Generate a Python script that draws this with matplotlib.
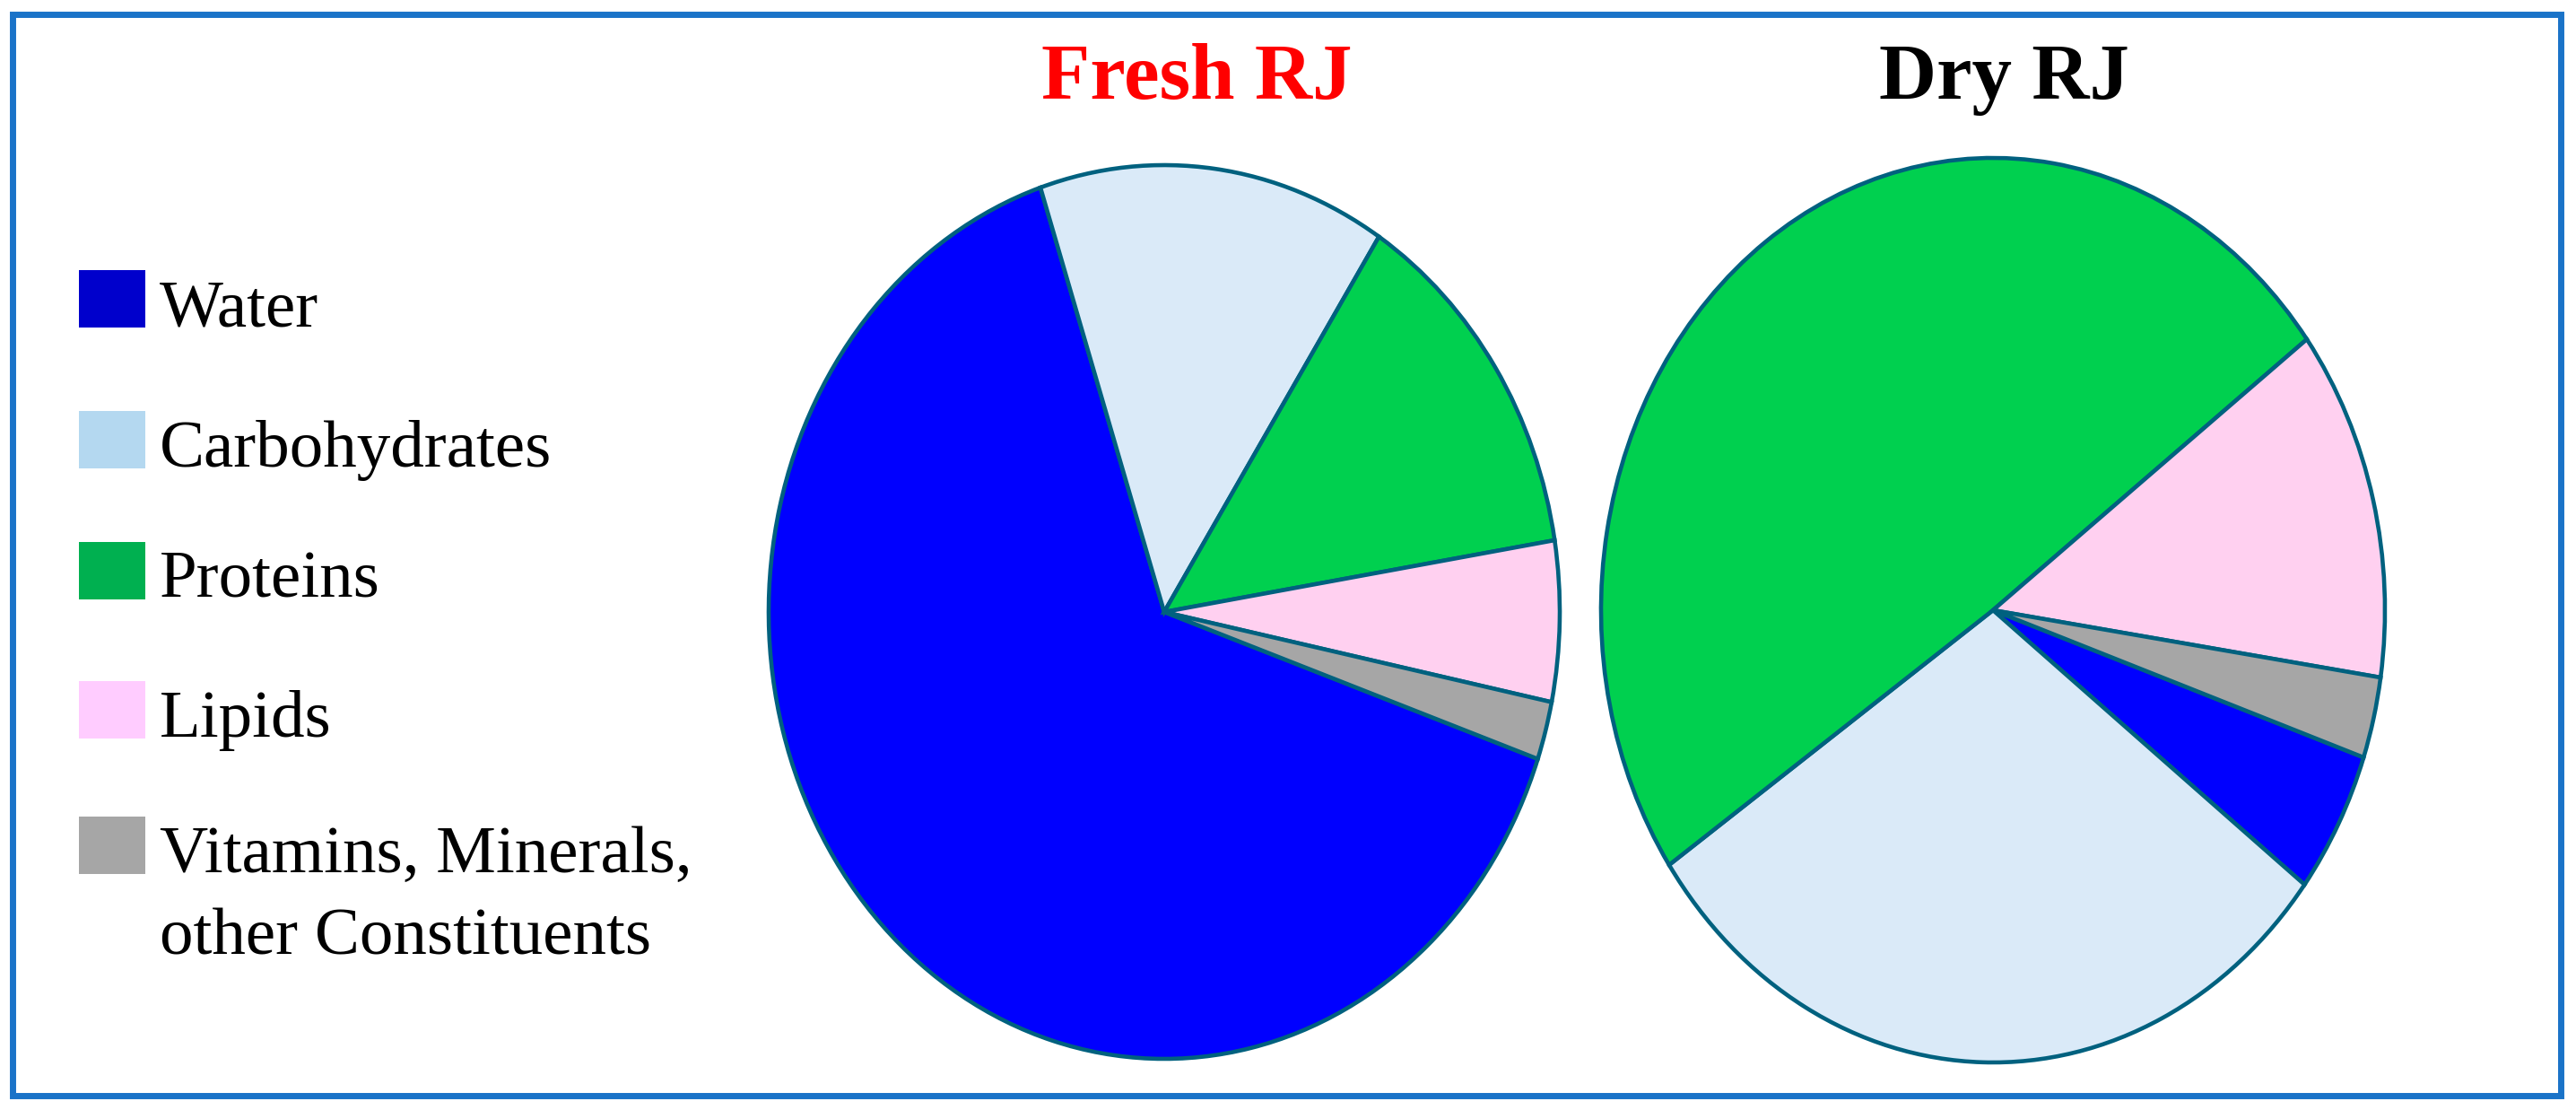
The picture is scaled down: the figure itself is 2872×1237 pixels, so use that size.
import matplotlib.pyplot as plt
from matplotlib.patches import Rectangle

components = ["Water", "Carbohydrates", "Proteins", "Lipids", "Vitamins, Minerals,\nother Constituents"]
fresh_rj = [64.6, 14.2, 13.3, 5.8, 2.1]
dry_rj = [5.1, 30.1, 49.3, 12.6, 2.9]

pie_colors = ["#0000FF", "#DAEAF8", "#00D04F", "#FFD0F0", "#A6A6A6"]
legend_colors = ["#0000CC", "#B4D8F0", "#00B050", "#FFCCFF", "#A6A6A6"]
edge_color = "#00617F"

W, H = 2872, 1237
fig = plt.figure(figsize=(W / 100, H / 100), dpi=100)
plt.rcParams['font.family'] = ['Liberation Serif', 'DejaVu Serif']


def px_box(cx, cy, rx, ry):
    # pixel centre / radii -> figure fraction [left, bottom, width, height]
    return [(cx - rx) / W, 1 - (cy + ry) / H, 2 * rx / W, 2 * ry / H]


def draw_pie(box, values, start):
    ax = fig.add_axes(box)
    wedges, _ = ax.pie(values, colors=pie_colors, startangle=start, counterclock=False,
                       wedgeprops=dict(edgecolor=edge_color, linewidth=3.3))
    for w in wedges:
        w.set_clip_on(False)
    ax.set_aspect('auto')
    ax.set_xlim(-1, 1)
    ax.set_ylim(-1, 1)
    ax.axis("off")
    return ax


draw_pie(px_box(1298, 682, 441, 498), fresh_rj, -19.2)
draw_pie(px_box(2222, 680, 437, 504), dry_rj, -19.0)

fig.text(1334 / W, 1 - 110 / H, "Fresh RJ", color="#FF0000", fontsize=64, fontweight="bold",
         ha="center", va="baseline")
fig.text(2234 / W, 1 - 110 / H, "Dry RJ", color="black", fontsize=64, fontweight="bold",
         ha="center", va="baseline")

# legend drawn by hand
square_tops = [301, 458, 604, 759, 910]
for name, col, top in zip(components, legend_colors, square_tops):
    fig.add_artist(Rectangle((88 / W, 1 - (top + 64) / H), 74 / W, 64 / H,
                             transform=fig.transFigure, facecolor=col, edgecolor="none"))
    lines = name.split("\n")
    base = top + 62
    for i, line in enumerate(lines):
        fig.text(178 / W, 1 - (base + i * 91) / H, line, fontsize=54, color="black",
                 ha="left", va="baseline")

# blue outer frame
fig.add_artist(Rectangle((14 / W, 1 - 1221 / H), 2841 / W, 1205 / H, transform=fig.transFigure,
                         facecolor="none", edgecolor="#1A73C8", linewidth=5.0))

plt.savefig("out.png", dpi=100)
plt.close(fig)
